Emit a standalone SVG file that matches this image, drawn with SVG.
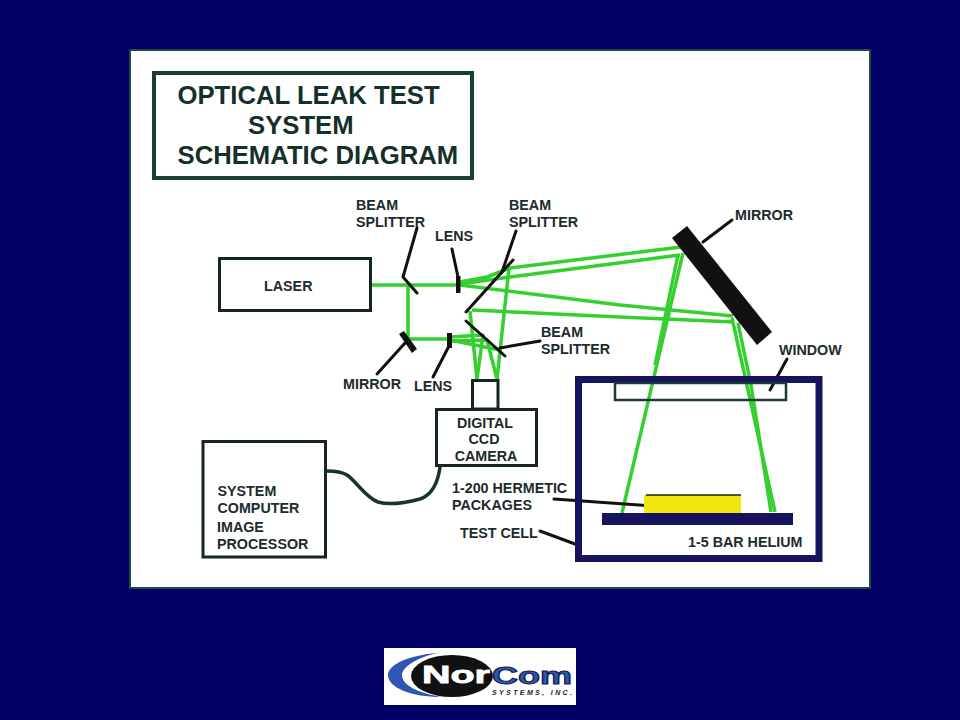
<svg xmlns="http://www.w3.org/2000/svg" width="960" height="720" viewBox="0 0 960 720">
<style>
text{font-family:"Liberation Sans",Arial,sans-serif;font-weight:bold;fill:#1c2b2b}
.l{font-size:14.300px}
.t{font-size:25.700px;fill:#15302a}
.c{text-anchor:middle}
.box{fill:#fff;stroke:#17261f;stroke-width:3}
.lead{fill:none;stroke:#111;stroke-width:3;stroke-linecap:round;stroke-linejoin:round}
.beam{fill:none;stroke:#35d02f;stroke-width:3.500;stroke-linejoin:round}
.navy{fill:#17125e}
</style>
<rect width="960" height="720" fill="#000066"/>
<rect x="130" y="50" width="740" height="538" fill="#fff" stroke="#1c4a44" stroke-width="2"/>
<g id="title">
<rect x="154" y="73" width="318" height="105" fill="none" stroke="#1a3f34" stroke-width="4"/>
<text class="t" x="177.500" y="104">OPTICAL LEAK TEST</text>
<text class="t" x="248" y="133.500">SYSTEM</text>
<text class="t" x="177.500" y="163.500">SCHEMATIC DIAGRAM</text>
</g>
<g id="connectors">
<g class="beams">
<path class="beam" d="M371 285H458"/>
<path class="beam" d="M408 285V339H450"/>
<path class="beam" d="M460 282L487 277L510 268L681 247"/>
<path class="beam" d="M460 284L510 277L680 255"/>
<path class="beam" d="M460 285L620 305L733 316"/>
<path class="beam" d="M472 310L620 317L734 322"/>
<path class="beam" d="M470 311L477 379"/>
<path class="beam" d="M509 268L497 379"/>
<path class="beam" d="M450 337L483 335L477 379"/>
<path class="beam" d="M450 340L500 350"/>
<path class="beam" d="M450 341L487 340L497 379"/>
<path class="beam" d="M683 253L622 513" stroke-width="4.500"/>
<path class="beam" d="M678 255L655 365"/>
<path class="beam" d="M732 318L775 512" stroke-width="4"/>
<path class="beam" d="M738 323L751 385L771 512" stroke-width="4"/>
</g>
<path class="lead" d="M417 228L403 277L417 293"/>
<path class="lead" d="M452 249L458 277"/>
<path class="lead" d="M466 312L513 260"/>
<path class="lead" d="M516 231L502 272"/>
<path class="lead" d="M466 321L505 356"/>
<path class="lead" d="M540 341L500 348" stroke-width="3.500"/>
<path class="lead" d="M377 374L405 343"/>
<path class="lead" d="M433 377L449 346"/>
<path class="lead" d="M732 220L703 242"/>
<path class="lead" d="M787 359L770 390"/>
<path class="lead" d="M554 499L653 506" stroke-width="3.500"/>
<path class="lead" d="M540 531L575 544" stroke-width="3.500"/>
<path class="lead" d="M327 471C335 471 342 472 347 475C356 481 366 498 378 502C388 505 405 503 420 499C432 495 438 482 440 467" style="stroke:#17352d;stroke-width:3.500"/>
</g>
<g id="laser">
<rect class="box" x="219.500" y="258.500" width="151" height="52"/>
<text class="l" x="264" y="291">LASER</text>
</g>
<g id="beam-splitter-1">
<text class="l" x="356" y="210">BEAM</text>
<text class="l" x="356" y="227">SPLITTER</text>
</g>
<g id="lens-1">
<rect x="456" y="276" width="4.500" height="17" fill="#111"/>
<text class="l" x="435" y="241">LENS</text>
</g>
<g id="beam-splitter-2">
<text class="l" x="509" y="210">BEAM</text>
<text class="l" x="509" y="227">SPLITTER</text>
</g>
<g id="beam-splitter-3">
<text class="l" x="541" y="337">BEAM</text>
<text class="l" x="541" y="354">SPLITTER</text>
</g>
<g id="mirror-small">
<polygon points="399,334 404,331 417,349 412,353" fill="#111"/>
<text class="l" x="343" y="389">MIRROR</text>
</g>
<g id="lens-2">
<rect x="447" y="333" width="5" height="15" fill="#111"/>
<text class="l" x="414" y="391">LENS</text>
</g>
<g id="mirror-large">
<polygon points="672,238 687,226 772,332 757,345" fill="#111"/>
<text class="l" x="735" y="220">MIRROR</text>
</g>
<g id="camera">
<rect class="box" x="472.500" y="380.500" width="25.500" height="28.500"/>
<rect class="box" x="436.500" y="409.500" width="100" height="56"/>
<text class="l c" x="485" y="428">DIGITAL</text>
<text class="l c" x="484" y="444">CCD</text>
<text class="l c" x="486" y="461">CAMERA</text>
</g>
<g id="computer">
<rect class="box" x="203" y="441.500" width="122.500" height="115.500"/>
<text class="l" x="217.500" y="496">SYSTEM</text>
<text class="l" x="217.500" y="512.500">COMPUTER</text>
<text class="l" x="217" y="531.500">IMAGE</text>
<text class="l" x="217" y="548.500">PROCESSOR</text>
</g>
<g id="test-cell">
<rect x="578.500" y="379.500" width="240.500" height="179" fill="none" stroke="#17125e" stroke-width="7"/>
<rect x="615" y="383" width="171" height="17" fill="none" stroke="#1d3a3a" stroke-width="2.500"/>
<text class="l" x="779" y="355">WINDOW</text>
<text class="l" x="460" y="538">TEST CELL</text>
<text class="l" x="688" y="547">1-5 BAR HELIUM</text>
</g>
<g id="packages">
<rect x="644" y="495" width="97" height="18" fill="#f2e60f"/>
<path d="M646 495H741" stroke="#222" stroke-width="1.500"/>
<rect class="navy" x="602" y="513" width="191" height="12"/>
<text class="l" x="452" y="493">1-200 HERMETIC</text>
<text class="l" x="452" y="510">PACKAGES</text>
</g>
<g id="logo">
<rect x="384" y="648" width="192" height="57" fill="#fff"/>
<path d="M438 653C408 655 388 665 388 675C388 688 412 697 441 697C420 693 402 686 402 675C402 667 418 657 438 653Z" fill="#2f55b5"/>
<ellipse cx="452" cy="676" rx="41" ry="21" fill="#111"/>
<text x="422" y="683" font-size="24" style="fill:#fff;stroke:#fff;stroke-width:.8" textLength="68" lengthAdjust="spacingAndGlyphs">Nor</text>
<text x="492" y="684" font-size="23" style="fill:#2f55b5;stroke:#14204a;stroke-width:1" textLength="80" lengthAdjust="spacingAndGlyphs">Com</text>
<text x="492" y="695" font-size="7" font-style="italic" style="fill:#222" textLength="80">SYSTEMS, INC.</text>
</g>
</svg>
